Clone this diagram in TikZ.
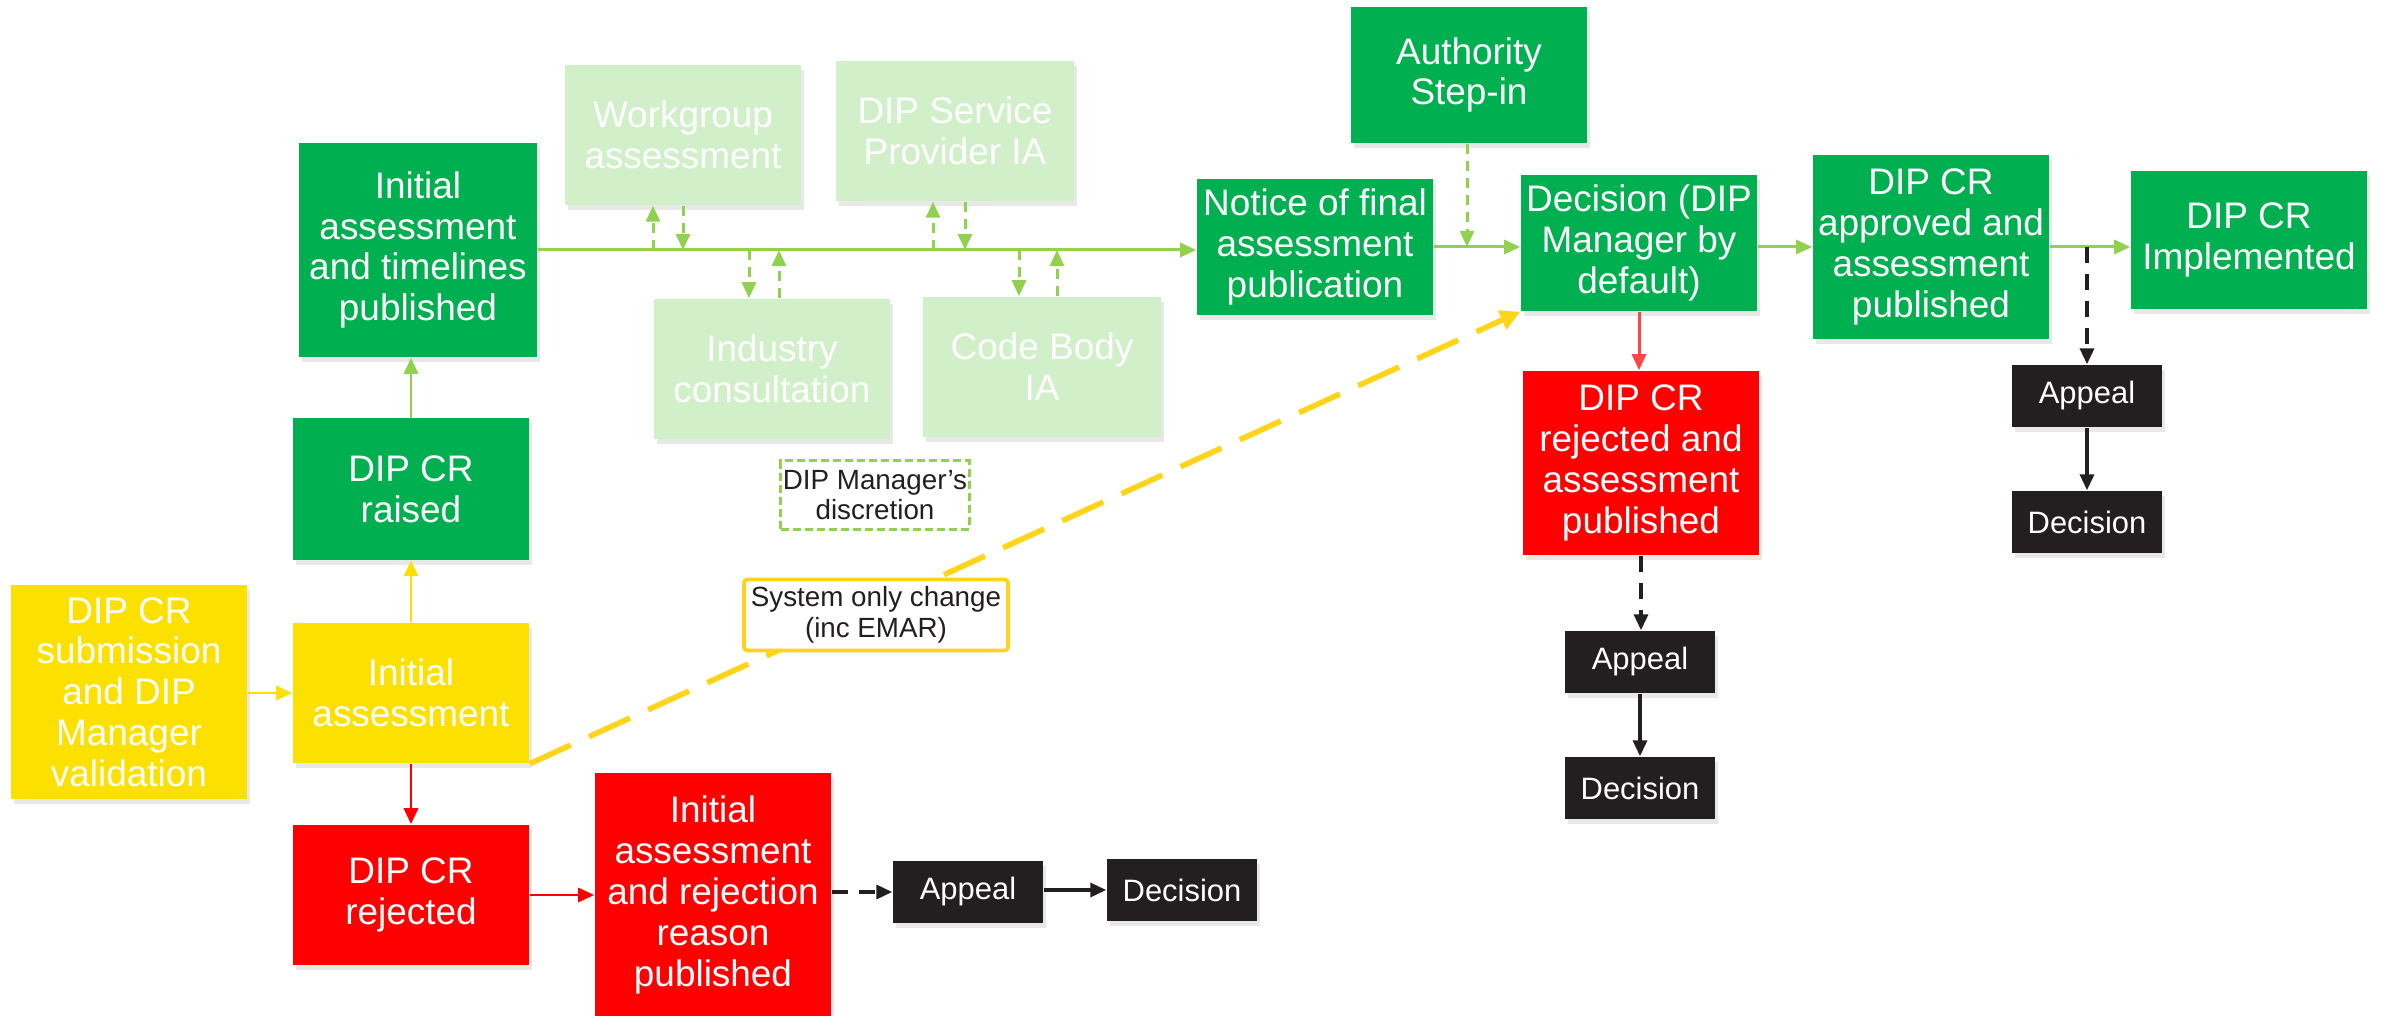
\documentclass[tikz,border=0pt]{standalone}
\usepackage{fontspec}
\setmainfont{Liberation Sans}
\usepackage{tikz}
\usetikzlibrary{positioning, calc, arrows.meta, shadows}
\definecolor{dipgreen}{HTML}{00B050}
\definecolor{diplight}{HTML}{D1F0C9}
\definecolor{dipyellow}{HTML}{FCE100}
\definecolor{dipred}{HTML}{FF0000}
\definecolor{dipblack}{HTML}{231F20}
\definecolor{arrowgreen}{HTML}{92D050}
\definecolor{arrowyellow}{HTML}{FFD41A}
\definecolor{arrowred}{HTML}{FF4545}
\tikzset{box/.style = {rectangle, inner sep=0pt, align=center, text=white,
                       minimum width=2.36cm, minimum height=1.40cm,
                       font=\fontsize{10.5}{11.6}\selectfont,
                       drop shadow={shadow xshift=0.03cm, shadow yshift=-0.05cm, opacity=0.18}},
         greenbox/.style = {box, fill=dipgreen},
         lightbox/.style = {box, fill=diplight},
         yellowbox/.style = {box, fill=dipyellow},
         redbox/.style = {box, fill=dipred},
         blackbox/.style = {box, fill=dipblack, minimum width=1.50cm, minimum height=0.62cm,
                            font=\fontsize{8.8}{10}\selectfont},
         notebox/.style = {rectangle, inner sep=0pt, align=center, text=dipblack,
                           font=\fontsize{7.9}{8.7}\selectfont},
         gline/.style = {draw=arrowgreen, line width=0.85pt, -{Triangle[length=0.16cm,width=0.14cm]}},
         gdash/.style = {gline, dash pattern=on 0.1cm off 0.07cm},
         yline/.style = {draw=dipyellow, line width=0.85pt, -{Triangle[length=0.16cm,width=0.14cm]}},
         ydash/.style = {draw=arrowyellow, line width=1.6pt, dash pattern=on 0.45cm off 0.2cm,
                         -{Triangle[length=0.2cm,width=0.2cm]}},
         rline/.style = {draw=dipred, line width=0.85pt, -{Triangle[length=0.16cm,width=0.14cm]}},
         kline/.style = {draw=dipblack, line width=1pt, -{Triangle[length=0.16cm,width=0.14cm]}},
         kdash/.style = {kline, dash pattern=on 0.16cm off 0.11cm}}

\begin{document}
\begin{tikzpicture}[x=0.01cm, y=-0.01cm]
    \useasboundingbox (0,0) rectangle (2387,1016);
    % left part
    \node[yellowbox, minimum height=2.14cm] (sub) at (129,692) {DIP CR\\submission\\and DIP\\Manager\\validation};
    \node[yellowbox] (ia) at (411,693) {Initial\\assessment};
    \node[greenbox, minimum height=1.41cm] (raised) at (411,489) {DIP CR\\raised};
    \node[greenbox, minimum width=2.38cm, minimum height=2.14cm] (itp) at (418,250) {Initial\\assessment\\and timelines\\published};
    \node[redbox] (rej) at (411,895) {DIP CR\\rejected};
    \node[redbox, minimum height=2.44cm] (irp) at (713,895) {Initial\\assessment\\and rejection\\reason\\published};
    \node[blackbox] (app1) at (968,892) {Appeal};
    \node[blackbox] (dec1) at (1182,890) {Decision};
    % optional assessments
    \node[lightbox] (wg) at (683,135) {Workgroup\\assessment};
    \node[lightbox, minimum width=2.37cm] (sp) at (955,131) {DIP Service\\Provider IA};
    \node[lightbox, minimum width=2.35cm] (ic) at (772,369) {Industry\\consultation};
    \node[lightbox, minimum width=2.37cm] (cb) at (1042,367) {Code Body\\IA};
    \node[notebox, draw=arrowgreen, line width=0.85pt, dash pattern=on 0.08cm off 0.04cm,
          minimum width=1.88cm, minimum height=0.68cm] (disc) at (875,495) {DIP Manager’s\\discretion};
    % decision part
    \node[greenbox, minimum height=1.35cm] (notice) at (1315,247) {Notice of final\\assessment\\publication};
    \node[greenbox, minimum height=1.36cm] (auth) at (1469,75) {Authority\\Step-in};
    \node[greenbox, minimum height=1.36cm] (dec) at (1639,243) {Decision (DIP\\Manager by\\default)};
    \node[redbox, minimum height=1.84cm] (rejp) at (1641,463) {DIP CR\\rejected and\\assessment\\published};
    \node[blackbox] (app2) at (1640,662) {Appeal};
    \node[blackbox] (dec2) at (1640,788) {Decision};
    \node[greenbox, minimum height=1.84cm] (appr) at (1931,247) {DIP CR\\approved and\\assessment\\published};
    \node[greenbox, minimum height=1.38cm] (impl) at (2249,240) {DIP CR\\Implemented};
    \node[blackbox] (app3) at (2087,396) {Appeal};
    \node[blackbox] (dec3) at (2087,522) {Decision};

    \draw[yline] (sub.east |- ia.west) -- (ia.west);
    \draw[yline] (ia.north) -- (raised.south);
    \draw[gline] (raised.north) -- (raised.north |- itp.south);
    \draw[rline] (ia.south) -- (rej.north);
    \draw[rline] (rej.east) -- (rej.east -| irp.west);
    \draw[kdash] (irp.east |- app1.west) -- (app1.west);
    \draw[kline] (app1.east |- dec1.west) -- (dec1.west);
    \draw[gline] (itp.east) -- (itp.east -| notice.west);
    \foreach \n/\u/\d in {wg/-30/0, sp/-22/10}{
        \draw[gdash] ($(\n.south |- itp.east)+(\u,0)$) -- ($(\n.south)+(\u,0)$);
        \draw[gdash] ($(\n.south)+(\d,0)$) -- ($(\n.south |- itp.east)+(\d,0)$);}
    \foreach \n/\d/\u in {ic/-23/7, cb/-23/15}{
        \draw[gdash] ($(\n.north |- itp.east)+(\d,0)$) -- ($(\n.north)+(\d,0)$);
        \draw[gdash] ($(\n.north)+(\u,0)$) -- ($(\n.north |- itp.east)+(\u,0)$);}
    \draw[gline] (notice.east) -- (notice.east -| dec.west);
    \draw[gdash] (auth.south -| 1467,0) -- (1467,0 |- notice.east);
    \draw[gline] (dec.east |- appr.west) -- (appr.west);
    \draw[rline, draw=arrowred] (dec.south) -- (dec.south |- rejp.north);
    \draw[kdash] (rejp.south) -- (rejp.south |- app2.north);
    \draw[kline] (app2.south) -- (dec2.north);
    \draw[gline] (appr.east) -- (appr.east -| impl.west);
    \draw[kdash] (appr.east -| app3.north) -- (app3.north);
    \draw[kline] (app3.south) -- (dec3.north);
    \draw[ydash] (ia.south east) -- (dec.south west);
    \node[notebox, draw=arrowyellow, fill=white, line width=1.1pt, rounded corners=1pt,
          minimum width=2.64cm, minimum height=0.71cm] (sys) at (876,615) {System only change\\(inc EMAR)};
\end{tikzpicture}
\end{document}
